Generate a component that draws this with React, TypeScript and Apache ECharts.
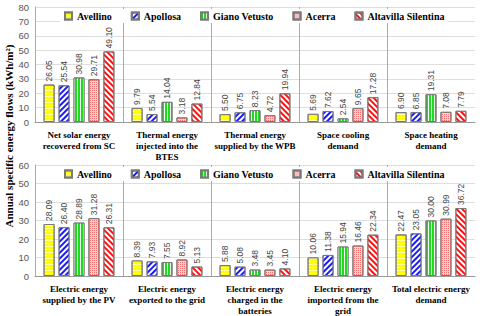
import React, { useEffect, useRef } from 'react';
import * as echarts from 'echarts';

const sites = ['Avellino', 'Apollosa', 'Giano Vetusto', 'Acerra', 'Altavilla Silentina'];

const thermalCategories = [
  'Net solar energy\nrecovered from SC',
  'Thermal energy\ninjected into the\nBTES',
  'Thermal energy\nsupplied by the WPB',
  'Space cooling\ndemand',
  'Space heating\ndemand',
];
const electricCategories = [
  'Electric energy\nsupplied by the PV',
  'Electric energy\nexported to the grid',
  'Electric energy\ncharged in the\nbatteries',
  'Electric energy\nimported from the\ngrid',
  'Total electric energy\ndemand',
];

// thermal panel values per site
const avellinoThermal = [26.05, 9.79, 5.5, 5.69, 6.9];
const apollosaThermal = [25.54, 5.54, 6.75, 7.62, 6.85];
const gianoThermal = [30.98, 14.04, 8.23, 2.54, 19.31];
const acerraThermal = [29.71, 3.18, 4.72, 9.65, 7.08];
const altavillaThermal = [49.1, 12.84, 19.94, 17.28, 7.79];

// electric panel values per site
const avellinoElectric = [28.09, 8.39, 5.88, 10.06, 22.47];
const apollosaElectric = [26.4, 7.93, 5.08, 11.38, 23.05];
const gianoElectric = [28.89, 7.55, 3.48, 15.94, 30.0];
const acerraElectric = [31.28, 8.92, 3.45, 16.46, 30.99];
const altavillaElectric = [26.31, 5.13, 4.1, 22.34, 36.72];

const thermalTicks = { min: 0, max: 80, interval: 10 };
const electricTicks = { min: 0, max: 60, interval: 10 };

const yAxisTitle = 'Annual specific energy flows (kWh/m\u00B2)';

const siteStyles = [
  {
    color: '#ffff00',
    decal: { symbol: 'rect', symbolSize: 1, dashArrayX: [1, 0], dashArrayY: [1, 1.5], rotation: 0, color: 'rgba(255,255,210,0.75)' },
  },
  {
    color: '#ffffff',
    decal: { symbol: 'rect', symbolSize: 1, dashArrayX: [1, 0], dashArrayY: [1.5, 1.5], rotation: -Math.PI / 4, color: '#1a1aff' },
  },
  {
    color: '#22d822',
    decal: { symbol: 'rect', symbolSize: 1, dashArrayX: [1, 0], dashArrayY: [1, 1.5], rotation: Math.PI / 2, color: '#e8ffe8' },
  },
  {
    color: '#ffd6d6',
    decal: { symbol: 'rect', symbolSize: 1, dashArrayX: [1, 1], dashArrayY: [1, 1], rotation: 0, color: '#ff7070' },
  },
  {
    color: '#ffffff',
    decal: { symbol: 'rect', symbolSize: 1, dashArrayX: [1, 0], dashArrayY: [1.5, 1.5], rotation: Math.PI / 4, color: '#ff1010' },
  },
];

const narrow = 'Liberation Sans Narrow, Liberation Sans, sans-serif';
const serif = 'Liberation Serif, serif';

export default function App() {
  const ref = useRef<HTMLDivElement>(null);

  useEffect(() => {
    if (!ref.current) return;
    const chart = echarts.init(ref.current, null, { renderer: 'svg' });

    const thermalData = [avellinoThermal, apollosaThermal, gianoThermal, acerraThermal, altavillaThermal];
    const electricData = [avellinoElectric, apollosaElectric, gianoElectric, acerraElectric, altavillaElectric];

    const makeSeries = (data: number[][], idx: number) =>
      sites.map((name, i) => ({
        name,
        type: 'bar',
        xAxisIndex: idx,
        yAxisIndex: idx,
        data: data[i],
        barWidth: 11,
        barGap: '36%',
        itemStyle: {
          color: siteStyles[i].color,
          decal: siteStyles[i].decal,
          borderColor: '#7a7a7a',
          borderWidth: 1,
        },
        label: {
          show: true,
          position: 'top',
          rotate: 90,
          align: 'left',
          verticalAlign: 'middle',
          distance: 3,
          fontSize: 8.5,
          color: '#444',
          fontFamily: narrow,
          formatter: (p: any) => Number(p.value).toFixed(2),
        },
      }));

    const xAxisBase = (gridIndex: number, cats: string[]) => ({
      type: 'category',
      gridIndex,
      data: cats,
      axisLine: { show: true, lineStyle: { color: '#999' } },
      axisTick: { show: false },
      splitLine: {
        show: true,
        lineStyle: { color: ['#aaa', '#aaa', '#aaa', '#aaa', '#aaa', 'rgba(0,0,0,0)'], width: 1 },
      },
      axisLabel: {
        interval: 0,
        margin: 7,
        fontFamily: serif,
        fontWeight: 'bold',
        fontSize: 9,
        lineHeight: 11,
        color: '#000',
      },
    });

    const yAxisBase = (gridIndex: number, t: { min: number; max: number; interval: number }) => ({
      type: 'value',
      gridIndex,
      min: t.min,
      max: t.max,
      interval: t.interval,
      axisLine: { show: true, lineStyle: { color: '#aaa' } },
      axisTick: { show: false },
      splitLine: { show: true, lineStyle: { color: '#dedede' } },
      axisLabel: { fontSize: 9.5, color: '#555', fontFamily: narrow, margin: 6 },
    });

    const legendText = { fontFamily: serif, fontWeight: 'bold', fontSize: 10, color: '#000' };

    const legendBase = (top: number) => ({
      data: sites.map((name) => ({ name, textStyle: legendText })),
      top,
      left: 60,
      itemWidth: 7,
      itemHeight: 7,
      itemGap: 19,
      icon: 'rect',
      backgroundColor: '#fff',
      padding: [2, 4],
      textStyle: legendText,
    });

    chart.setOption({
      animation: false,
      backgroundColor: '#fff',
      textStyle: { fontFamily: serif },
      grid: [
        { left: 35, right: 5, top: 7, height: 115 },
        { left: 35, right: 5, top: 165, height: 112 },
      ],
      legend: [legendBase(9), legendBase(167)],
      xAxis: [xAxisBase(0, thermalCategories), xAxisBase(1, electricCategories)],
      yAxis: [yAxisBase(0, thermalTicks), yAxisBase(1, electricTicks)],
      series: [...makeSeries(thermalData, 0), ...makeSeries(electricData, 1)],
      graphic: [
        {
          type: 'text',
          x: 9,
          y: 136,
          rotation: Math.PI / 2,
          style: {
            text: yAxisTitle,
            font: `bold 11px ${serif}`,
            fill: '#000',
            align: 'center',
            verticalAlign: 'middle',
          },
        },
      ],
    });

    return () => chart.dispose();
  }, []);

  return <div ref={ref} style={{ width: 480, height: 316, position: 'absolute', left: 0, top: 0 }} />;
}
